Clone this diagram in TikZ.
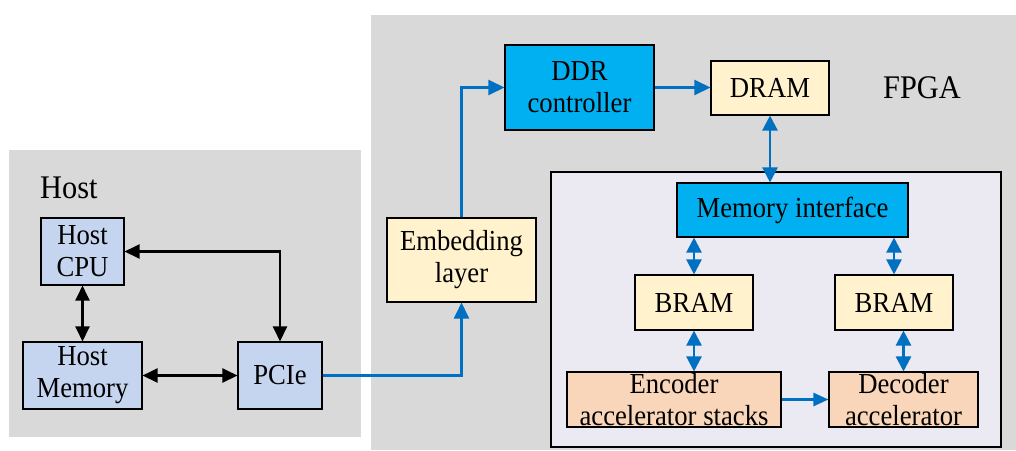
\documentclass[tikz,border=0pt]{standalone}
\usepackage{fontspec}
\setmainfont{Liberation Serif}[FakeStretch=0.92]
\usetikzlibrary{arrows.meta}

\definecolor{panelgray}{HTML}{D9D9D9}
\definecolor{innerfill}{HTML}{EBE9F1}
\definecolor{hostblue}{HTML}{C5D4EF}
\definecolor{cyanbox}{HTML}{00B0F0}
\definecolor{creambox}{HTML}{FFF2CC}
\definecolor{peachbox}{HTML}{F9D6B9}
\definecolor{linkblue}{HTML}{0070C0}

\tikzset{
  box/.style={draw=black, line width=1.1pt, inner sep=0pt, align=center,
    font=\fontsize{29}{32}\selectfont},
  title/.style={inner sep=0pt, font=\fontsize{33}{36}\selectfont},
  blk/.style={draw=black, line width=2.4pt, {Triangle[length=15pt,width=14pt]}-{Triangle[length=15pt,width=14pt]}},
  blu/.style={draw=linkblue, line width=2.4pt},
  bluetip/.style={-{Triangle[length=16pt,width=15pt]}},
  bluetwo/.style={{Triangle[length=15pt,width=15pt]}-{Triangle[length=15pt,width=15pt]}},
}

\begin{document}
\begin{tikzpicture}[x=1pt, y=-1pt]
\useasboundingbox (0,0) rectangle (1016,450);

% panels
\fill[panelgray] (9,150) rectangle (361,437);
\fill[panelgray] (371,15) rectangle (1016,450);
\draw[line width=1.3pt, fill=innerfill] (551,172) rectangle (1001,447);

\node[title, anchor=base west] (hostlbl) at (40,198) {Host};
\node[title, anchor=base west] (fpgalbl) at (883,98) {FPGA};

% host side
\node[box, fill=hostblue, minimum width=83pt, minimum height=67pt] (cpu) at (82.5,251.5) {Host\\CPU};
\node[box, fill=hostblue, minimum width=119pt, minimum height=67pt] (mem) at (82.5,375.5) {Host\\Memory};
\node[box, fill=hostblue, minimum width=84pt, minimum height=67pt] (pcie) at (280,375.5) {PCIe};

% FPGA side
\node[box, fill=creambox, minimum width=149pt, minimum height=84pt] (emb) at (461.5,260) {Embedding\\layer};
\node[box, fill=cyanbox, minimum width=149pt, minimum height=85pt] (ddr) at (579.5,87.5) {DDR\\controller};
\node[box, fill=creambox, minimum width=118pt, minimum height=54pt] (dram) at (770,88) {DRAM};
\node[box, fill=cyanbox, minimum width=231pt, minimum height=54pt] (mif) at (792.5,210) {Memory interface};
\node[box, fill=creambox, minimum width=118pt, minimum height=55pt] (bramA) at (694,302.5) {BRAM};
\node[box, fill=creambox, minimum width=118pt, minimum height=55pt] (bramB) at (894,302.5) {BRAM};
\node[box, fill=peachbox, minimum width=214pt, minimum height=55pt] (enc) at (674,399.5) {Encoder\\accelerator stacks};
\node[box, fill=peachbox, minimum width=149pt, minimum height=55pt] (dec) at (903.5,399.5) {Decoder\\accelerator};

% host links
\draw[blk] (cpu.south) -- (mem.north);
\draw[blk] (cpu.east) -| (pcie.north);
\draw[blk] (mem.east) -- (pcie.west);

% FPGA links
\draw[blu, bluetip] (pcie.east) -| (emb.south);
\draw[blu, bluetip] (emb.north) |- (ddr.west);
\draw[blu, bluetip] (ddr.east) -- (ddr.east -| dram.west);
\draw[blu, bluetwo] (dram.south) -- (dram.south |- mif.north);
\draw[blu, bluetwo] (bramA.north |- mif.south) -- (bramA.north);
\draw[blu, bluetwo] (bramB.north |- mif.south) -- (bramB.north);
\draw[blu, bluetwo] (bramA.south) -- (bramA.south |- enc.north);
\draw[blu, bluetwo] (dec.north |- bramB.south) -- (dec.north);
\draw[blu, -{Triangle[length=15pt,width=13pt]}] (enc.east) -- (dec.west);
\end{tikzpicture}
\end{document}
